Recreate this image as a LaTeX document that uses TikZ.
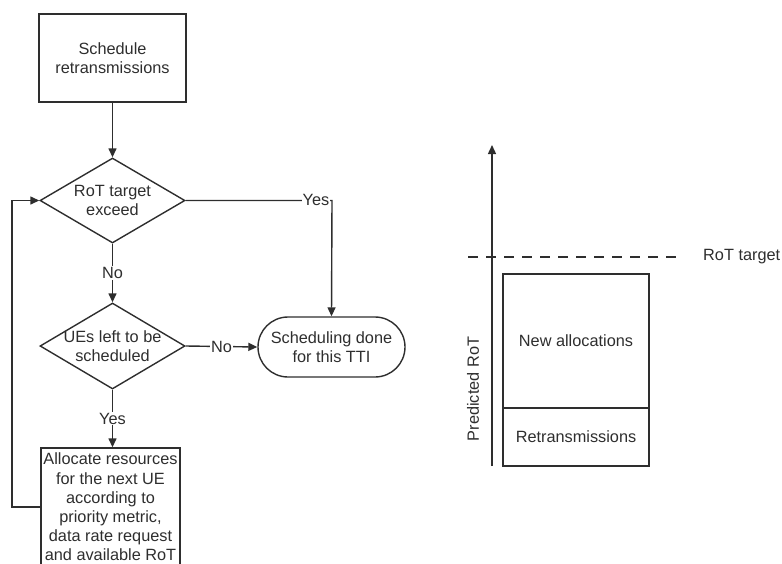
\documentclass[tikz,border=0pt]{standalone}
\usepackage{fontspec}
\setmainfont{Liberation Sans}
\usetikzlibrary{shapes.geometric,arrows.meta}
\definecolor{ink}{rgb}{0.18,0.18,0.18}
\tikzset{
  base/.style={draw=ink, line width=1.4pt, text=ink, font=\fontsize{16.3}{19.2}\selectfont, inner sep=0pt, align=center},
  procbox/.style={base, rectangle},
  decision/.style={base, diamond, minimum width=145pt, minimum height=85pt},
  terminal/.style={base, rectangle, rounded corners=30pt, minimum width=147pt, minimum height=60pt},
  flow/.style={draw=ink, line width=1.4pt, -{Triangle[length=9pt,width=8pt]}},
  plain/.style={draw=ink, line width=1.4pt},
  tag/.style={text=ink, font=\fontsize{16.3}{19.2}\selectfont, inner sep=1pt, fill=white},
  txt/.style={text=ink, font=\fontsize{16.3}{19.2}\selectfont, inner sep=0pt, align=center}
}
\begin{document}
\begin{tikzpicture}[x=1pt,y=-1pt]
\useasboundingbox (0,0) rectangle (782,563);

% flowchart
\node[procbox, minimum width=147pt, minimum height=88pt] (sched) at (112.5,58) {Schedule\\retransmissions};
\node[decision, label={[txt]center:RoT target\\exceed}] (d1) at (112.5,200.5) {};
\node[decision, minimum height=86pt, label={[txt]center:UEs left to be\\scheduled}] (d2) at (112.5,346) {};
\node[terminal] (done) at (331.5,347) {Scheduling done\\for this TTI};
\node[procbox, minimum width=139pt, minimum height=118pt] (alloc) at (110.5,507)
  {Allocate resources\\for the next UE\\according to\\priority metric,\\data rate request\\and available RoT};
\coordinate (loopx) at (12,0);
\coordinate (yesx) at (332,0);

\draw[flow] (sched.south) -- (d1.north);
\draw[flow] (d1.east) -- (d1.east -| yesx) -- (done.north);
\node[tag] (yes1) at (316,200) {Yes};
\draw[flow] (d1.south) -- node[tag] (no1) {No} (d2.north);
\draw[flow] (d2.east) -- node[tag] (no2) {No} (done.west);
\draw[flow] (d2.south) -- node[tag] (yes2) {Yes} (d2.south |- alloc.north);
\draw[flow] (alloc.west) -- (alloc.west -| loopx) |- (d1.west);

% predicted RoT stack
\coordinate (axbot) at (492,466);
\coordinate (axtop) at (492,145);
\draw[flow] (axbot) -- (axtop);
\node[txt, rotate=90] (ylab) at (473,389) {Predicted RoT};
\coordinate (tgtl) at (468,257);
\coordinate (tgtr) at (683,257);
\draw[plain, dash pattern=on 10pt off 8pt] (tgtl) -- (tgtr);
\node[txt, anchor=west] (tgt) at (703,257) {RoT target};
\node[procbox, minimum width=146pt, minimum height=134pt] (newalloc) at (576,341) {New allocations};
\node[procbox, minimum width=146pt, minimum height=58pt] (retx) at (576,437) {Retransmissions};
\end{tikzpicture}
\end{document}
